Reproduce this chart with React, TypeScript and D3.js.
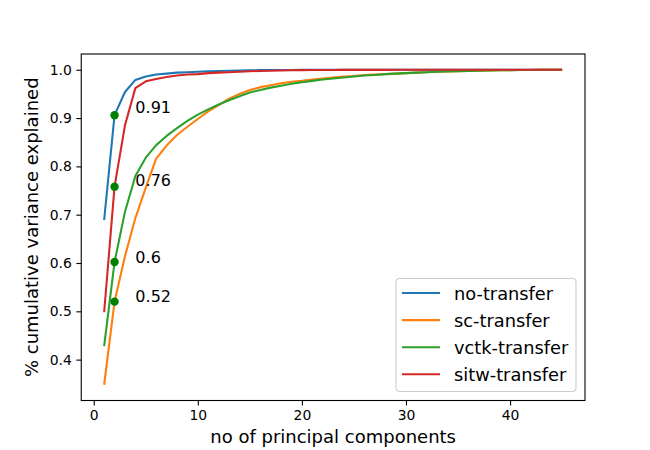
import { useEffect, useRef } from "react";
import * as d3 from "d3";

// number of principal components: 1..45
const components = [
  1, 2, 3, 4, 5, 6, 7, 8, 9, 10, 11, 12, 13, 14, 15, 16, 17, 18, 19, 20, 21,
  22, 23, 24, 25, 26, 27, 28, 29, 30, 31, 32, 33, 34, 35, 36, 37, 38, 39, 40,
  41, 42, 43, 44, 45,
];

const noTransfer = [
  0.689, 0.906, 0.954, 0.979, 0.986, 0.99, 0.992, 0.994, 0.995, 0.996, 0.997,
  0.9975, 0.998, 0.9985, 0.999, 0.9992, 0.9994, 0.9995, 0.9996, 0.9997,
  0.9997, 0.9998, 0.9998, 0.9998, 0.9999, 0.9999, 0.9999, 0.9999, 0.9999,
  0.9999, 1.0, 1.0, 1.0, 1.0, 1.0, 1.0, 1.0, 1.0, 1.0, 1.0, 1.0, 1.0, 1.0,
  1.0, 1.0,
];

const scTransfer = [
  0.348, 0.52, 0.614, 0.693, 0.756, 0.816, 0.843, 0.865, 0.882, 0.898, 0.914,
  0.927, 0.94, 0.95, 0.958, 0.964, 0.968, 0.972, 0.975, 0.977, 0.98, 0.982,
  0.984, 0.986, 0.987, 0.989, 0.99, 0.991, 0.992, 0.993, 0.994, 0.995, 0.996,
  0.9965, 0.997, 0.9975, 0.998, 0.9985, 0.999, 0.9992, 0.9994, 0.9996,
  0.9997, 0.9998, 1.0,
];

const vctkTransfer = [
  0.428, 0.602, 0.706, 0.78, 0.818, 0.844, 0.863, 0.879, 0.894, 0.907, 0.918,
  0.928, 0.937, 0.945, 0.953, 0.958, 0.963, 0.967, 0.971, 0.974, 0.977, 0.98,
  0.982, 0.984, 0.986, 0.988, 0.989, 0.991, 0.992, 0.993, 0.994, 0.995,
  0.996, 0.9965, 0.997, 0.9975, 0.998, 0.9985, 0.999, 0.9992, 0.9994, 0.9996,
  0.9997, 0.9998, 1.0,
];

const sitwTransfer = [
  0.498, 0.758, 0.885, 0.962, 0.976, 0.981, 0.985, 0.988, 0.99, 0.991, 0.993,
  0.994, 0.995, 0.996, 0.997, 0.9975, 0.998, 0.9985, 0.999, 0.9992, 0.9994,
  0.9995, 0.9996, 0.9997, 0.9997, 0.9998, 0.9998, 0.9998, 0.9999, 0.9999,
  0.9999, 0.9999, 1.0, 1.0, 1.0, 1.0, 1.0, 1.0, 1.0, 1.0, 1.0, 1.0, 1.0, 1.0,
  1.0,
];

const seriesNames = ["no-transfer", "sc-transfer", "vctk-transfer", "sitw-transfer"];
const seriesValues = [noTransfer, scTransfer, vctkTransfer, sitwTransfer];
const seriesColors = ["#1f77b4", "#ff7f0e", "#2ca02c", "#d62728"];

// highlighted values at 2 components
const markerX = 2;
const markerLabelX = 4;

const xTicks = [0, 10, 20, 30, 40];
const yTicks = [0.4, 0.5, 0.6, 0.7, 0.8, 0.9, 1.0];

const width = 650;
const height = 450;
const margin = { top: 54, right: 65, bottom: 49.5, left: 81.25 };
const font = "DejaVu Sans, sans-serif";

export default function App() {
  const svgRef = useRef<SVGSVGElement | null>(null);

  useEffect(() => {
    const svg = d3.select(svgRef.current);
    svg.selectAll("*").remove(); // clean before drawing

    const allValues = seriesValues.flat();
    const xMin = d3.min(components) as number;
    const xMax = d3.max(components) as number;
    const yMin = d3.min(allValues) as number;
    const yMax = d3.max(allValues) as number;
    const xPad = (xMax - xMin) * 0.05;
    const yPad = (yMax - yMin) * 0.05;

    const x = d3
      .scaleLinear()
      .domain([xMin - xPad, xMax + xPad])
      .range([margin.left, width - margin.right]);

    const y = d3
      .scaleLinear()
      .domain([yMin - yPad, yMax + yPad])
      .range([height - margin.bottom, margin.top]);

    const line = d3
      .line<number>()
      .x((_, i) => x(components[i]))
      .y((d) => y(d));

    seriesValues.forEach((values, i) => {
      svg
        .append("path")
        .datum(values)
        .attr("fill", "none")
        .attr("stroke", seriesColors[i])
        .attr("stroke-width", 2.08)
        .attr("stroke-linejoin", "round")
        .attr("stroke-linecap", "butt")
        .attr("d", line);
    });

    // green markers + labels at 2 components
    const idx = components.indexOf(markerX);
    seriesValues.forEach((values) => {
      const v = values[idx];
      svg
        .append("circle")
        .attr("cx", x(markerX))
        .attr("cy", y(v))
        .attr("r", 4.2)
        .attr("fill", "green");
      svg
        .append("text")
        .attr("x", x(markerLabelX))
        .attr("y", y(Math.round(v * 100) / 100))
        .attr("font-family", font)
        .attr("font-size", 16)
        .attr("fill", "black")
        .text(String(Math.round(v * 100) / 100));
    });

    // axes
    const xAxis = svg
      .append("g")
      .attr("transform", `translate(0,${height - margin.bottom})`)
      .call(d3.axisBottom(x).tickValues(xTicks).tickSize(4.9).tickPadding(4.5).tickFormat(d3.format("d")));
    const yAxis = svg
      .append("g")
      .attr("transform", `translate(${margin.left},0)`)
      .call(d3.axisLeft(y).tickValues(yTicks).tickSize(4.9).tickPadding(4.5).tickFormat(d3.format(".1f")));

    [xAxis, yAxis].forEach((g) => {
      g.select(".domain").remove();
      g.selectAll("line").attr("stroke", "black").attr("stroke-width", 1.1);
      g.selectAll("text")
        .attr("font-family", font)
        .attr("font-size", 13.9)
        .attr("fill", "black");
    });

    // spines
    svg
      .append("rect")
      .attr("x", margin.left)
      .attr("y", margin.top)
      .attr("width", width - margin.left - margin.right)
      .attr("height", height - margin.top - margin.bottom)
      .attr("fill", "none")
      .attr("stroke", "black")
      .attr("stroke-width", 1.1);

    // axis labels
    svg
      .append("text")
      .attr("x", (margin.left + width - margin.right) / 2)
      .attr("y", 443)
      .attr("text-anchor", "middle")
      .attr("font-family", font)
      .attr("font-size", 18)
      .text("no of principal components");

    svg
      .append("text")
      .attr("transform", `translate(38,${(margin.top + height - margin.bottom) / 2}) rotate(-90)`)
      .attr("text-anchor", "middle")
      .attr("font-family", font)
      .attr("font-size", 18)
      .text("% cumulative variance explained");

    // legend (lower right)
    const legendW = 180;
    const legendH = 113;
    const legendX = width - margin.right - 9 - legendW;
    const legendY = height - margin.bottom - 9 - legendH;
    const legend = svg.append("g").attr("transform", `translate(${legendX},${legendY})`);
    legend
      .append("rect")
      .attr("width", legendW)
      .attr("height", legendH)
      .attr("rx", 3.5)
      .attr("fill", "white")
      .attr("fill-opacity", 0.8)
      .attr("stroke", "#cccccc")
      .attr("stroke-width", 1.1);

    seriesNames.forEach((name, i) => {
      const rowY = 14.5 + i * 27.1;
      legend
        .append("line")
        .attr("x1", 6)
        .attr("x2", 44)
        .attr("y1", rowY)
        .attr("y2", rowY)
        .attr("stroke", seriesColors[i])
        .attr("stroke-width", 2.08);
      legend
        .append("text")
        .attr("x", 58)
        .attr("y", rowY + 7)
        .attr("font-family", font)
        .attr("font-size", 17.8)
        .text(name);
    });
  }, []);

  return (
    <svg
      ref={svgRef}
      width={width}
      height={height}
      style={{ position: "absolute", left: 0, top: 0, background: "white" }}
      role="img"
      aria-label="cumulative variance explained chart"
    ></svg>
  );
}
